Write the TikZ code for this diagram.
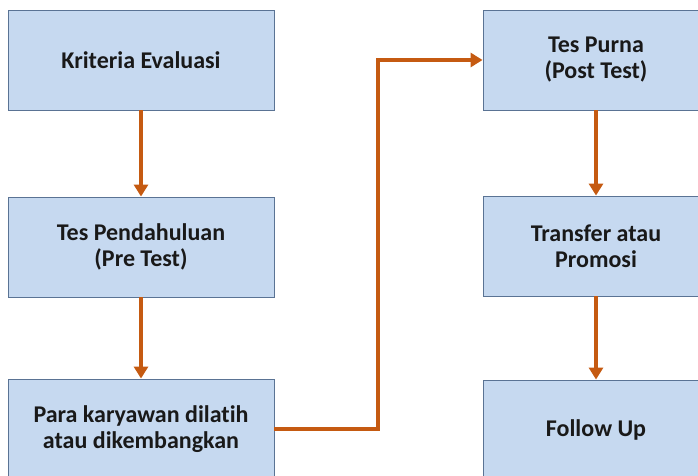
\documentclass[tikz,border=0pt]{standalone}
\usepackage{fontspec}
\setmainfont[Ligatures={NoCommon}]{Carlito}
\usetikzlibrary{arrows.meta}
\definecolor{boxfill}{HTML}{C6D9F0}
\definecolor{boxline}{HTML}{5A7394}
\definecolor{flow}{HTML}{C55A11}
\begin{document}
\begin{tikzpicture}[x=1pt,y=-1pt,
  stage/.style={draw=boxline, line width=0.9pt, fill=boxfill, rectangle,
    minimum height=100pt, align=center, inner sep=0pt,
    font=\fontsize{24}{26}\selectfont\bfseries, text=black!90},
  leftstage/.style={stage, minimum width=266pt},
  rightstage/.style={stage, minimum width=226pt},
  flowarrow/.style={draw=flow, line width=4.5pt,
    -{Triangle[length=12pt,width=14pt]}}]
  \useasboundingbox (0,0) rectangle (698,476);
  \begin{scope}
  \clip (0,0) rectangle (698,476);
  % left column
  \node[leftstage] (kriteria) at (141,60) {Kriteria Evaluasi};
  \node[leftstage] (pre) at (141,247) {Tes Pendahuluan\\(Pre Test)};
  \node[leftstage] (latih) at (141,429) {Para karyawan dilatih\\atau dikembangkan};
  % right column
  \node[rightstage] (post) at (596,60) {Tes Purna\\(Post Test)};
  \node[rightstage] (transfer) at (596,246) {Transfer atau\\Promosi};
  \node[rightstage] (follow) at (596,430) {Follow Up};
  \end{scope}
  % connectors
  \coordinate (bend) at (378,60);
  \draw[flowarrow] (kriteria) -- (pre);
  \draw[flowarrow] (pre) -- (latih);
  \draw[flowarrow] (latih.east) -| (bend) -- (post.west);
  \draw[flowarrow] (post) -- (transfer);
  \draw[flowarrow] (transfer) -- (follow);
\end{tikzpicture}
\end{document}
